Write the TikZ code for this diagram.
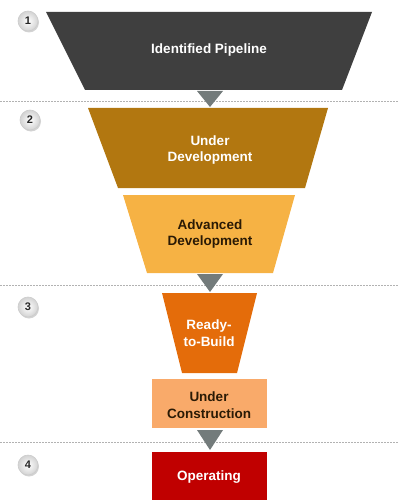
\documentclass[tikz,border=0pt]{standalone}
\usepackage{fontspec}
\setmainfont{Liberation Sans}
\usetikzlibrary{shadows}
\definecolor{pipe}{HTML}{3F3F3F}
\definecolor{undev}{HTML}{B27710}
\definecolor{advdev}{HTML}{F6B244}
\definecolor{ready}{HTML}{E46C0A}
\definecolor{uncon}{HTML}{F9AA6A}
\definecolor{oper}{HTML}{C00000}
\definecolor{arr}{HTML}{737B7B}
\definecolor{darktxt}{HTML}{2A1A05}
\tikzset{
  lbl/.style={font=\fontsize{13.5}{16.5}\selectfont\bfseries, align=center, inner sep=0pt},
  sep/.style={draw=gray!60, dash pattern=on 2pt off 1pt, line width=0.8pt},
  chev/.style={fill=arr, draw=none},
  num/.style={circle, minimum size=20pt, inner sep=0pt, draw=gray!40, line width=0.6pt,
    inner color=white, outer color=gray!35, drop shadow={shadow xshift=1pt, shadow yshift=-1.5pt, opacity=0.35},
    font=\fontsize{11}{13}\selectfont\bfseries, text=black!85}
}
\begin{document}
\begin{tikzpicture}[x=1pt,y=-1pt]
\useasboundingbox (0,0) rectangle (398,500);
% separators
\coordinate (s1l) at (0,101); \coordinate (s1r) at (398,101);
\coordinate (s2l) at (0,285); \coordinate (s2r) at (398,285);
\coordinate (s3l) at (0,442); \coordinate (s3r) at (398,442);
\draw[sep] (s1l) -- (s1r);
\draw[sep] (s2l) -- (s2r);
\draw[sep] (s3l) -- (s3r);
% chevrons
\fill[chev] (197,91) -- (223,91) -- (210,107) -- cycle;
\fill[chev] (197,274) -- (223,274) -- (210,292) -- cycle;
\fill[chev] (197,430) -- (223,430) -- (210,450) -- cycle;
% stages
\fill[pipe] (46,12) -- (372,12) -- (342,90) -- (85,90) -- cycle;
\node[lbl, text=white] (p1) at (209,50) {Identified Pipeline};
\fill[undev] (88,108) -- (328,108) -- (305,188) -- (118,188) -- cycle;
\node[lbl, text=white] (p2) at (210,150) {Under\\Development};
\fill[advdev] (123,195) -- (295,195) -- (273,273) -- (147,273) -- cycle;
\node[lbl, text=darktxt] (p3) at (210,234) {Advanced\\Development};
\fill[ready] (162,293) -- (257,293) -- (237,373) -- (182,373) -- cycle;
\node[lbl, text=white] (p4) at (209,333) {Ready-\\to-Build};
\fill[uncon] (152,379) rectangle (267,428);
\node[lbl, text=darktxt] (p5) at (209,405) {Under\\Construction};
\fill[oper] (152,452) rectangle (267,500);
\node[lbl, text=white] (p6) at (209,477) {Operating};
% numbers
\node[num] (n1) at (28,21) {1};
\node[num] (n2) at (30,120) {2};
\node[num] (n3) at (28,307) {3};
\node[num] (n4) at (28,465) {4};
\end{tikzpicture}
\end{document}
